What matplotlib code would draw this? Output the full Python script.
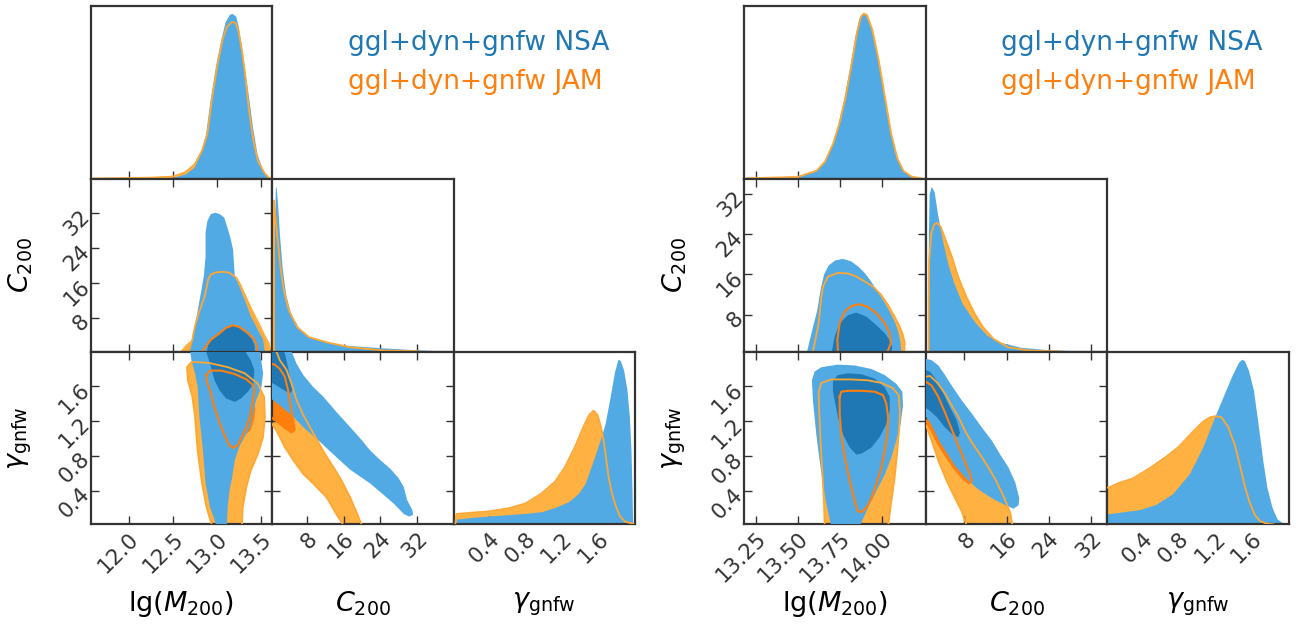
import matplotlib.pyplot as plt

# ---------------- data ----------------
# axis ranges
L_M_LIM = (11.57, 13.62)
L_C_LIM = (0.4, 39.9)
L_G_LIM = (0.01, 2.0)
R_M_LIM = (13.18, 14.26)
R_C_LIM = (0.65, 35.1)
R_G_LIM = (0.02, 2.0)

L_M_TICKS = [12.0, 12.5, 13.0, 13.5]
L_M_LABELS = ['12.0', '12.5', '13.0', '13.5']
R_M_TICKS = [13.25, 13.5, 13.75, 14.0]
R_M_LABELS = ['13.25', '13.50', '13.75', '14.00']
C_TICKS = [8, 16, 24, 32]
C_LABELS = ['8', '16', '24', '32']
G_TICKS = [0.4, 0.8, 1.2, 1.6]
G_LABELS = ['0.4', '0.8', '1.2', '1.6']

# 1D marginals, left triangle
LM_NSA_X = [11.60, 12.00, 12.25, 12.50, 12.64, 12.74, 12.81, 12.87, 12.92, 12.98, 13.04, 13.09,
            13.14, 13.17, 13.21, 13.24, 13.28, 13.34, 13.40, 13.45, 13.51, 13.56, 13.61]
LM_NSA_P = [0.0, 0.002, 0.004, 0.008, 0.028, 0.069, 0.15, 0.271, 0.474, 0.676, 0.838, 0.949,
            0.996, 1.0, 0.984, 0.919, 0.777, 0.555, 0.312, 0.15, 0.059, 0.012, 0.0]
LM_JAM_X = [11.60, 12.25, 12.50, 12.64, 12.75, 12.83, 12.89, 12.94, 13.00, 13.06, 13.11, 13.17,
            13.21, 13.24, 13.28, 13.32, 13.36, 13.41, 13.46, 13.53, 13.58, 13.61]
LM_JAM_P = [0.0, 0.006, 0.012, 0.038, 0.089, 0.17, 0.271, 0.474, 0.676, 0.838, 0.919, 0.949,
            0.943, 0.899, 0.777, 0.615, 0.413, 0.231, 0.109, 0.038, 0.008, 0.0]
LC_NSA_X = [0.84, 0.95, 1.13, 1.28, 1.57, 2.02, 2.60, 3.34, 4.44, 6.27, 8.48, 12.15, 17.29,
            24.63, 31.97, 39.3]
LC_NSA_P = [0.0, 0.75, 0.99, 1.0, 0.91, 0.71, 0.51, 0.35, 0.23, 0.14, 0.087, 0.057, 0.036,
            0.022, 0.01, 0.002]
LC_JAM_X = [0.78, 0.82, 0.92, 1.50, 2.24, 2.97, 4.07, 5.91, 8.48, 12.15, 17.29, 24.63, 31.97]
LC_JAM_P = [0.0, 0.915, 0.88, 0.713, 0.511, 0.37, 0.248, 0.147, 0.087, 0.057, 0.026, 0.006, 0.002]
LG_NSA_X = [0.03, 0.04, 0.205, 0.40, 0.609, 0.80, 0.976, 1.123, 1.27, 1.38, 1.453, 1.545,
            1.618, 1.673, 1.728, 1.776, 1.813, 1.839, 1.875, 1.912, 1.938, 1.956, 1.967, 1.974]
LG_NSA_P = [0.0, 0.032, 0.042, 0.051, 0.059, 0.067, 0.077, 0.103, 0.137, 0.188, 0.248, 0.39,
            0.511, 0.612, 0.774, 0.925, 1.0, 0.992, 0.935, 0.814, 0.653, 0.45, 0.208, 0.0]
LG_JAM_X = [0.03, 0.04, 0.205, 0.40, 0.609, 0.80, 0.976, 1.123, 1.233, 1.343, 1.435, 1.497,
            1.545, 1.589, 1.626, 1.655, 1.681, 1.71, 1.747, 1.791, 1.839, 1.894, 1.967, 1.99]
LG_JAM_P = [0.0, 0.063, 0.071, 0.079, 0.097, 0.127, 0.188, 0.259, 0.349, 0.471, 0.592, 0.663,
            0.689, 0.663, 0.592, 0.511, 0.41, 0.289, 0.188, 0.107, 0.046, 0.016, 0.006, 0.0]

# 1D marginals, right triangle
RM_NSA_X = [13.19, 13.353, 13.498, 13.599, 13.648, 13.698, 13.734, 13.771, 13.808, 13.838, 13.862,
            13.882, 13.902, 13.931, 13.968, 14.005, 14.042, 14.079, 14.115, 14.165, 14.238]
RM_NSA_P = [0.002, 0.004, 0.012, 0.042, 0.093, 0.194, 0.315, 0.476, 0.677, 0.859, 0.97,
            1.0, 0.99, 0.919, 0.758, 0.536, 0.315, 0.153, 0.063, 0.016, 0.0]
RM_JAM_X = [13.196, 13.498, 13.611, 13.661, 13.710, 13.747, 13.784, 13.820, 13.850, 13.875,
            13.892, 13.911, 13.943, 13.980, 14.017, 14.054, 14.091, 14.128, 14.177, 14.238]
RM_JAM_P = [0.002, 0.01, 0.048, 0.103, 0.214, 0.335, 0.496, 0.698, 0.879, 0.98,
            1.0, 0.99, 0.899, 0.718, 0.496, 0.274, 0.123, 0.046, 0.012, 0.0]
RC_NSA_X = [1.05, 1.08, 1.16, 1.31, 1.71, 2.26, 2.89, 3.83, 4.85, 6.03, 7.61, 9.97, 12.33,
            14.69, 18.62, 24.13, 30.42, 34.36]
RC_NSA_P = [0.0, 0.3, 0.713, 0.956, 1.0, 0.966, 0.834, 0.673, 0.531, 0.41, 0.289, 0.178, 0.097,
            0.057, 0.026, 0.01, 0.004, 0.002]
RC_JAM_X = [1.2, 1.23, 1.31, 1.71, 2.26, 2.89, 3.52, 4.46, 5.64, 6.82, 8.39, 9.97, 11.54,
            13.51, 16.26, 20.2, 26.49]
RC_JAM_P = [0.0, 0.3, 0.552, 0.713, 0.770, 0.778, 0.754, 0.673, 0.572, 0.451, 0.329, 0.228,
            0.147, 0.077, 0.026, 0.006, 0.0]
RG_NSA_X = [0.02, 0.037, 0.367, 0.55, 0.734, 0.917, 1.064, 1.193, 1.284, 1.376, 1.45, 1.486,
            1.516, 1.56, 1.615, 1.67, 1.717, 1.761, 1.817, 1.872, 1.945, 1.98]
RG_NSA_P = [0.065, 0.065, 0.089, 0.121, 0.186, 0.308, 0.47, 0.652, 0.773, 0.895, 0.98, 1.0,
            0.992, 0.935, 0.814, 0.591, 0.389, 0.227, 0.105, 0.034, 0.004, 0.0]
RG_JAM_X = [0.02, 0.037, 0.147, 0.294, 0.477, 0.661, 0.80, 0.954, 1.064, 1.138, 1.204, 1.266,
            1.339, 1.413, 1.468, 1.523, 1.578, 1.633, 1.688, 1.761, 1.835]
RG_JAM_P = [0.223, 0.223, 0.251, 0.277, 0.338, 0.409, 0.47, 0.561, 0.621, 0.648, 0.656, 0.648,
            0.591, 0.48, 0.358, 0.227, 0.126, 0.055, 0.02, 0.004, 0.0]

# 2D contours (x, y) -- left triangle
# C200 vs lg(M200)
L_CM_NSA95 = [(12.69, 0.0), (12.73, 4.6), (12.77, 8.5), (12.81, 13.0), (12.85, 17.6), (12.87, 22.2),
              (12.87, 27.6), (12.89, 30.2), (12.93, 31.8), (12.98, 32.1), (13.03, 31.8), (13.08, 31.0),
              (13.11, 29.1), (13.15, 26.4), (13.18, 23.7), (13.19, 20.7), (13.20, 17.6), (13.25, 15.3),
              (13.31, 12.3), (13.38, 8.5), (13.46, 5.4), (13.52, 3.1), (13.53, 1.6), (13.55, 0.0)]
L_CM_NSA68 = [(12.88, 0.0), (12.90, 2.0), (12.95, 3.5), (13.03, 4.8), (13.10, 5.8), (13.18, 6.3),
              (13.25, 5.8), (13.33, 4.6), (13.39, 3.3), (13.42, 2.0), (13.43, 0.0)]
L_CM_JAM95_FILL = [(12.57, 0.0), (12.65, 2.0), (12.73, 3.3), (12.80, 6.9), (12.86, 11.5), (12.90, 16.1),
                   (12.97, 18.0), (13.12, 18.2), (13.25, 16.3), (13.33, 13.0), (13.40, 10.0), (13.48, 6.9),
                   (13.54, 4.3), (13.59, 2.4), (13.62, 0.0)]
L_CM_JAM95 = [(12.67, 0.0), (12.72, 3.1), (12.75, 6.2), (12.80, 9.6), (12.86, 13.0), (12.90, 16.9),
              (12.93, 18.0), (12.99, 18.5), (13.07, 18.6), (13.14, 18.4), (13.22, 17.2), (13.26, 15.7),
              (13.31, 13.4), (13.37, 10.4), (13.42, 7.7), (13.48, 5.6), (13.52, 3.9), (13.54, 2.4),
              (13.55, 0.0)]
L_CM_JAM68 = [(12.82, 0.0), (12.83, 0.4), (12.86, 1.2), (12.93, 3.1), (13.03, 4.6), (13.10, 5.8),
              (13.18, 6.4), (13.25, 6.0), (13.35, 4.6), (13.42, 3.1), (13.45, 1.6), (13.45, 0.0)]
# gamma vs lg(M200)
L_GM_NSA95 = [(12.99, 0.0), (12.92, 0.21), (12.87, 0.48), (12.84, 0.86), (12.80, 1.25), (12.78, 1.59),
              (12.75, 1.75), (12.71, 1.90), (12.69, 2.05), (13.48, 2.05), (13.50, 1.88), (13.52, 1.75),
              (13.50, 1.59), (13.44, 1.44), (13.40, 1.27), (13.37, 1.13), (13.31, 1.02), (13.25, 0.90),
              (13.20, 0.75), (13.17, 0.55), (13.14, 0.40), (13.12, 0.21), (13.11, 0.0)]
L_GM_NSA68 = [(12.86, 2.05), (12.92, 1.86), (12.97, 1.67), (13.03, 1.55), (13.10, 1.46), (13.20, 1.42),
              (13.27, 1.46), (13.35, 1.54), (13.41, 1.63), (13.42, 1.79), (13.38, 1.90), (13.33, 1.98),
              (13.31, 2.05)]
L_GM_JAM95 = [(12.94, 0.0), (12.88, 0.21), (12.83, 0.48), (12.78, 0.86), (12.75, 1.25), (12.72, 1.48),
              (12.67, 1.67), (12.66, 1.82), (12.71, 1.88), (12.90, 1.87), (13.12, 1.82), (13.31, 1.75),
              (13.46, 1.63), (13.53, 1.48), (13.54, 1.25), (13.52, 1.02), (13.46, 0.82), (13.38, 0.63),
              (13.33, 0.44), (13.29, 0.21), (13.28, 0.0)]
L_GM_JAM68 = [(12.88, 1.73), (12.92, 1.78), (13.05, 1.78), (13.20, 1.74), (13.33, 1.68), (13.41, 1.61),
              (13.42, 1.54), (13.39, 1.36), (13.37, 1.25), (13.33, 1.13), (13.28, 1.02), (13.23, 0.92),
              (13.18, 0.89), (13.14, 0.92), (13.09, 1.02), (13.03, 1.17), (12.97, 1.36), (12.92, 1.55),
              (12.88, 1.67)]
L_GM_JAM68_FILL = [(12.88, 1.73), (12.92, 1.78), (13.05, 1.78), (13.20, 1.74), (13.33, 1.68), (13.41, 1.61),
                   (13.42, 1.54), (13.43, 1.34), (13.42, 1.23), (13.38, 1.09), (13.28, 1.02), (13.23, 0.92),
                   (13.18, 0.89), (13.14, 0.92), (13.09, 1.02), (13.03, 1.17), (12.97, 1.36), (12.92, 1.55),
                   (12.88, 1.67)]
# gamma vs C200
L_GC_NSA95 = [(0.0, 2.05), (4.28, 2.05), (5.74, 1.86), (7.20, 1.73), (9.39, 1.59), (11.57, 1.48),
              (14.49, 1.30), (17.41, 1.13), (19.60, 1.00), (21.79, 0.86), (23.97, 0.75), (26.16, 0.65),
              (27.99, 0.54), (29.08, 0.44), (29.81, 0.29), (30.90, 0.18), (31.12, 0.12), (30.17, 0.10),
              (29.08, 0.13), (26.89, 0.25), (24.70, 0.35), (21.79, 0.48), (19.60, 0.56), (17.41, 0.64),
              (14.49, 0.78), (10.84, 0.96), (7.20, 1.13), (5.01, 1.25), (2.82, 1.35), (0.63, 1.44),
              (0.0, 1.46)]
L_GC_NSA68 = [(0.0, 2.05), (2.82, 2.05), (3.55, 1.90), (4.28, 1.71), (4.86, 1.55), (4.28, 1.52),
              (2.82, 1.56), (1.36, 1.61), (0.0, 1.65)]
L_GC_JAM95 = [(0.0, 2.05), (1.0, 2.05), (2.09, 1.90), (3.55, 1.79), (4.64, 1.63), (5.74, 1.44),
              (7.20, 1.27), (8.66, 1.13), (10.12, 0.99), (11.94, 0.82), (13.76, 0.67), (15.59, 0.51),
              (17.41, 0.32), (18.72, 0.16), (19.96, 0.0), (15.95, 0.0), (14.49, 0.12), (12.30, 0.32),
              (9.39, 0.48), (7.20, 0.59), (5.01, 0.75), (3.19, 0.90), (1.36, 1.09), (0.0, 1.20)]
L_GC_JAM68 = [(0.0, 1.86), (1.0, 1.85), (2.09, 1.80), (3.19, 1.71), (3.92, 1.55), (4.43, 1.38),
              (5.01, 1.21), (5.37, 1.10), (4.64, 1.07), (3.19, 1.12), (1.36, 1.20), (0.0, 1.25)]

# 2D contours -- right triangle
R_CM_NSA95 = [(13.55, 0.0), (13.57, 2.9), (13.59, 5.6), (13.615, 8.9), (13.635, 13.0), (13.655, 16.0),
              (13.683, 17.8), (13.722, 18.8), (13.768, 19.1), (13.817, 18.6), (13.861, 17.5),
              (13.897, 16.3), (13.927, 15.0), (13.966, 13.0), (14.006, 10.9), (14.046, 8.6),
              (14.079, 6.3), (14.099, 4.3), (14.111, 2.3), (14.115, 0.0)]
R_CM_NSA68 = [(13.698, 0.0), (13.718, 3.6), (13.748, 6.3), (13.798, 7.9), (13.847, 8.4), (13.907, 7.6),
              (13.966, 5.9), (14.016, 4.3), (14.046, 2.9), (14.060, 1.6), (14.056, 0.0)]
R_CM_JAM95 = [(13.585, 0.0), (13.603, 2.9), (13.623, 6.3), (13.635, 10.3), (13.649, 13.6), (13.679, 15.6),
              (13.738, 16.3), (13.798, 16.2), (13.847, 15.6), (13.897, 14.6), (13.946, 13.6),
              (13.996, 11.9), (14.036, 9.9), (14.075, 7.6), (14.105, 5.6), (14.125, 3.9),
              (14.135, 2.3), (14.131, 0.0)]
R_CM_JAM68 = [(13.738, 0.0), (13.738, 0.6), (13.734, 2.9), (13.748, 6.3), (13.778, 8.6), (13.817, 9.7),
              (13.867, 10.1), (13.917, 9.5), (13.966, 8.3), (14.016, 6.3), (14.046, 4.3), (14.052, 2.3),
              (14.036, 0.9), (14.016, 0.0)]
R_GM_NSA95 = [(13.698, 0.0), (13.669, 0.25), (13.649, 0.48), (13.629, 0.75), (13.609, 1.05), (13.589, 1.44),
              (13.583, 1.67), (13.599, 1.77), (13.639, 1.82), (13.738, 1.85), (13.837, 1.84),
              (13.937, 1.80), (14.016, 1.73), (14.085, 1.63), (14.121, 1.54), (14.125, 1.38),
              (14.111, 1.17), (14.085, 0.98), (14.056, 0.79), (14.016, 0.59), (13.966, 0.40),
              (13.917, 0.21), (13.867, 0.0)]
R_GM_NSA68 = [(13.708, 1.67), (13.738, 1.73), (13.798, 1.75), (13.877, 1.74), (13.956, 1.69), (14.016, 1.59),
              (14.046, 1.48), (14.046, 1.32), (14.026, 1.17), (13.986, 1.02), (13.937, 0.90),
              (13.877, 0.83), (13.847, 0.82), (13.808, 0.90), (13.768, 1.05), (13.738, 1.25),
              (13.718, 1.44), (13.708, 1.55)]
R_GM_JAM95 = [(13.659, 0.0), (13.655, 0.25), (13.647, 0.55), (13.635, 0.94), (13.627, 1.29), (13.623, 1.54),
              (13.639, 1.64), (13.698, 1.68), (13.817, 1.68), (13.917, 1.67), (13.996, 1.64),
              (14.065, 1.58), (14.099, 1.50), (14.107, 1.32), (14.103, 1.13), (14.091, 0.86),
              (14.075, 0.55), (14.056, 0.29), (14.036, 0.0)]
R_GM_JAM68 = [(13.748, 1.48), (13.758, 1.54), (13.798, 1.55), (13.877, 1.55), (13.956, 1.54), (14.006, 1.50),
              (14.026, 1.40), (14.036, 1.25), (14.032, 1.05), (14.016, 0.86), (13.996, 0.67),
              (13.966, 0.48), (13.937, 0.32), (13.907, 0.21), (13.877, 0.16), (13.857, 0.17),
              (13.837, 0.29), (13.808, 0.52), (13.778, 0.79), (13.758, 1.05), (13.748, 1.29)]
R_GC_NSA95 = [(0.5, 1.92), (1.78, 1.90), (3.05, 1.84), (4.32, 1.73), (5.59, 1.61), (7.49, 1.44),
              (9.40, 1.29), (11.30, 1.13), (13.21, 0.98), (14.79, 0.82), (16.38, 0.67), (17.65, 0.50),
              (18.41, 0.32), (18.29, 0.24), (17.33, 0.20), (15.75, 0.24), (13.21, 0.32), (10.67, 0.42),
              (8.76, 0.52), (6.22, 0.69), (3.37, 0.96), (1.46, 1.19), (0.5, 1.27)]
R_GC_NSA68 = [(0.5, 1.79), (1.46, 1.77), (2.73, 1.67), (4.0, 1.52), (5.27, 1.36), (6.54, 1.21),
              (7.17, 1.07), (6.86, 1.02), (5.90, 1.04), (4.32, 1.13), (2.73, 1.25), (1.46, 1.32),
              (0.5, 1.36)]
R_GC_JAM95 = [(0.5, 1.71), (1.46, 1.72), (2.73, 1.65), (4.32, 1.52), (5.59, 1.38), (6.86, 1.25),
              (8.13, 1.09), (9.40, 0.96), (10.98, 0.82), (12.57, 0.67), (13.84, 0.54), (14.98, 0.40),
              (15.87, 0.28), (16.70, 0.15), (17.14, 0.0), (8.44, 0.0), (7.49, 0.17), (6.22, 0.32),
              (4.63, 0.52), (3.05, 0.75), (1.78, 0.98), (0.5, 1.19)]
R_GC_JAM68 = [(0.5, 1.66), (1.78, 1.61), (3.05, 1.48), (4.32, 1.30), (5.59, 1.11), (6.86, 0.92),
              (8.13, 0.73), (9.08, 0.59), (9.40, 0.52), (8.89, 0.49), (7.81, 0.54), (6.22, 0.65),
              (4.63, 0.79), (3.05, 0.94), (1.78, 1.09), (0.5, 1.23)]

LEGEND = ['ggl+dyn+gnfw NSA', 'ggl+dyn+gnfw JAM']

# ---------------- styling ----------------
BLUE_L = '#52aae4'
BLUE_D = '#1f77b4'
ORANGE_L = '#ffb142'
ORANGE_D = '#ff7f0e'
ORANGE_LINE = '#ffa733'
FRAME = '#333333'

W, H = 1296, 633
fig = plt.figure(figsize=(W / 100, H / 100), dpi=100)

PW, PH = 181.5, 172.9
TOP = 5.7


def make_ax(x0, row, col):
    left = (x0 + col * PW) / W
    bottom = 1 - (TOP + (row + 1) * PH) / H
    ax = fig.add_axes([left, bottom, PW / W, PH / H])
    for s in ax.spines.values():
        s.set_color(FRAME)
        s.set_linewidth(1.6)
    ax.tick_params(direction='in', length=5.5, width=1.0, color=FRAME,
                   labelsize=15.5, labelcolor=FRAME, pad=3)
    return ax


def fill_poly(ax, pts, color, z):
    xs, ys = zip(*pts)
    ax.fill(xs, ys, color=color, lw=0, zorder=z)


def line_poly(ax, pts, color, lw, z):
    xs, ys = zip(*pts)
    ax.plot(list(xs) + [xs[0]], list(ys) + [ys[0]], color=color, lw=lw, zorder=z,
            solid_joinstyle='round')


def draw_2d(ax, nsa95, nsa68, jam95, jam68, jam95_fill=None, jam68_fill=None):
    fill_poly(ax, jam95_fill or jam95, ORANGE_L, 1)
    fill_poly(ax, jam68_fill or jam68, ORANGE_D, 2)
    fill_poly(ax, nsa95, BLUE_L, 3)
    fill_poly(ax, nsa68, BLUE_D, 4)
    line_poly(ax, jam95, ORANGE_LINE, 1.3, 5)
    line_poly(ax, jam68, ORANGE_D, 1.5, 6)


def draw_1d(ax, xn, pn, xj, pj):
    ax.fill_between(xj, pj, color=ORANGE_L, lw=0, zorder=1)
    ax.fill_between(xn, pn, color=BLUE_L, lw=0, zorder=2)
    ax.plot(xj, pj, color=ORANGE_LINE, lw=1.3, zorder=3)
    ax.set_ylim(0, 1.047)
    ax.set_yticks([])


def triangle(x0, m_lim, c_lim, g_lim, m_ticks, m_labels, d):
    lims = [m_lim, c_lim, g_lim]
    ticks = [(m_ticks, m_labels), (C_TICKS, C_LABELS), (G_TICKS, G_LABELS)]
    names = [r'lg($M_{200}$)', r'$C_{200}$', r'$\gamma_{\rm gnfw}$']
    axes = {}
    for row in range(3):
        for col in range(row + 1):
            ax = make_ax(x0, row, col)
            axes[(row, col)] = ax
            ax.set_xlim(*lims[col])
            if row == col:
                ax.set_xticks(ticks[col][0])
            else:
                ax.set_ylim(*lims[row])
                ax.set_xticks(ticks[col][0])
                ax.set_yticks(ticks[row][0])
                ax.tick_params(top=True, right=True)
                if col == 0:
                    ax.set_yticks(ticks[row][0], ticks[row][1], rotation=45,
                                  ha='right', va='center', rotation_mode='anchor')
                    ax.set_ylabel(names[row], fontsize=19.5)
                    ax.yaxis.label.set_va('center')
                    ax.yaxis.set_label_coords(-0.385, 0.5)
                else:
                    ax.set_yticklabels([])
            if row == 2:
                ax.set_xticks(ticks[col][0], ticks[col][1], rotation=45,
                              ha='right', va='top', rotation_mode='anchor')
                ax.set_xlabel(names[col], fontsize=19.5)
                ax.xaxis.label.set_va('center')
                ax.xaxis.set_label_coords(0.5, -0.46)
            else:
                ax.set_xticklabels([])

    draw_1d(axes[(0, 0)], *d['m1'])
    draw_1d(axes[(1, 1)], *d['c1'])
    draw_1d(axes[(2, 2)], *d['g1'])
    draw_2d(axes[(1, 0)], *d['cm'])
    draw_2d(axes[(2, 0)], *d['gm'])
    draw_2d(axes[(2, 1)], *d['gc'])

    fig.text((x0 + 257) / W, 1 - 50 / H, LEGEND[0], color=BLUE_D, fontsize=19, va='baseline')
    fig.text((x0 + 257) / W, 1 - 89 / H, LEGEND[1], color=ORANGE_D, fontsize=19, va='baseline')


triangle(90.5, L_M_LIM, L_C_LIM, L_G_LIM, L_M_TICKS, L_M_LABELS, {
    'm1': (LM_NSA_X, LM_NSA_P, LM_JAM_X, LM_JAM_P),
    'c1': (LC_NSA_X, LC_NSA_P, LC_JAM_X, LC_JAM_P),
    'g1': (LG_NSA_X, LG_NSA_P, LG_JAM_X, LG_JAM_P),
    'cm': (L_CM_NSA95, L_CM_NSA68, L_CM_JAM95, L_CM_JAM68, L_CM_JAM95_FILL),
    'gm': (L_GM_NSA95, L_GM_NSA68, L_GM_JAM95, L_GM_JAM68, None, L_GM_JAM68_FILL),
    'gc': (L_GC_NSA95, L_GC_NSA68, L_GC_JAM95, L_GC_JAM68),
})
triangle(744.2, R_M_LIM, R_C_LIM, R_G_LIM, R_M_TICKS, R_M_LABELS, {
    'm1': (RM_NSA_X, RM_NSA_P, RM_JAM_X, RM_JAM_P),
    'c1': (RC_NSA_X, RC_NSA_P, RC_JAM_X, RC_JAM_P),
    'g1': (RG_NSA_X, RG_NSA_P, RG_JAM_X, RG_JAM_P),
    'cm': (R_CM_NSA95, R_CM_NSA68, R_CM_JAM95, R_CM_JAM68),
    'gm': (R_GM_NSA95, R_GM_NSA68, R_GM_JAM95, R_GM_JAM68),
    'gc': (R_GC_NSA95, R_GC_NSA68, R_GC_JAM95, R_GC_JAM68),
})

fig.savefig('out.png', dpi=100)
